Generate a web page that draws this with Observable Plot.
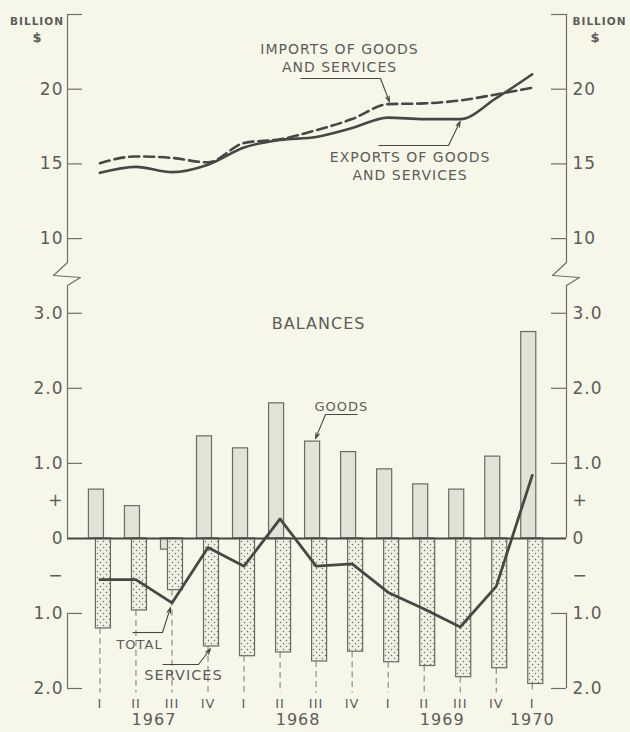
<!DOCTYPE html>
<html>
<head>
<meta charset="utf-8">
<script src="https://cdn.jsdelivr.net/npm/d3@7"></script>
<script src="https://cdn.jsdelivr.net/npm/@observablehq/plot@0.6"></script>
<style>
  html, body { margin: 0; padding: 0; background: #f7f7e9; }
  #chart { width: 630px; height: 732px; }
  #chart svg text { letter-spacing: 1px; }
</style>
</head>
<body>
<svg width="0" height="0" style="position:absolute">
  <defs>
    <pattern id="dots" width="6" height="6" patternUnits="userSpaceOnUse">
      <rect width="6" height="6" fill="#efefe2"></rect>
      <circle cx="1.5" cy="1.5" r="0.75" fill="#6c6c64"></circle>
      <circle cx="4.5" cy="4.5" r="0.75" fill="#6c6c64"></circle>
    </pattern>
  </defs>
</svg>
<div id="chart"></div>
<script>
// ---- data ----
const quarterLabels = ["I","II","III","IV","I","II","III","IV","I","II","III","IV","I"];
const quarterYears  = [1967,1967,1967,1967,1968,1968,1968,1968,1969,1969,1969,1969,1970];
const exportsBn  = [14.4, 14.8, 14.45, 14.95, 16.1, 16.6, 16.8, 17.4, 18.1, 18.0, 18.0, 19.4, 21.0];
const importsBn  = [15.05, 15.5, 15.4, 15.1, 16.4, 16.65, 17.25, 18.0, 19.0, 19.05, 19.25, 19.65, 20.1];
const goodsBal    = [0.65, 0.43, -0.15, 1.36, 1.2, 1.8, 1.29, 1.15, 0.92, 0.72, 0.65, 1.09, 2.75];
const servicesBal = [-1.2, -0.96, -0.69, -1.44, -1.57, -1.52, -1.64, -1.51, -1.65, -1.7, -1.85, -1.73, -1.94];
const totalBal    = [-0.55, -0.55, -0.86, -0.12, -0.37, 0.26, -0.37, -0.34, -0.72, -0.94, -1.18, -0.64, 0.84];

const tradeTicks = [25, 20, 15, 10];
const balanceTicks = [3, 2, 1, -1, -2];
const balanceLabelTicks = [3, 2, 1, 0.5, 0, -0.5, -1, -2];

// ---- layout / scale config ----
const W = 630, H = 732;
const mL = 67, mR = 64, mT = 14, mB = 44;
const frameW = W - mL - mR;
const tickLen = 15;
const xDomain = [-0.9, 12.95];                 // left and right axes
const yDomain = [-2, 3.37, 8.4, 25];           // broken scale: balances | gap | trade
const yRange  = [688, 285, 262, 14];
const axisSegments = [{y1: 8.4, y2: 25}, {y1: 0, y2: 3.37}, {y1: -2, y2: -1}];
const breakShape = [[0, 8.4], [-0.39, 5.56], [0.36, 5.12], [0, 3.37]];

const rows = quarterLabels.map((q, i) => ({
  i, q, year: quarterYears[i],
  exports: exportsBn[i], imports: importsBn[i],
  goods: goodsBal[i], services: servicesBal[i], total: totalBal[i]
}));
const yearRows = Array.from(d3.group(rows, d => d.year), ([year, qs]) => ({year: String(year), x: d3.mean(qs, d => d.i)}));

const fmt = d => d >= 8 ? String(d) : d === 0 ? "0" : d === 0.5 ? "+" : d === -0.5 ? "\u2212" : Math.abs(d).toFixed(1);

// annotations (data coordinates)
const notes = [
  {text: "IMPORTS OF GOODS\nAND SERVICES", x: 6.65, y: 22.12, size: 14},
  {text: "EXPORTS OF GOODS\nAND SERVICES", x: 8.61, y: 14.93, size: 14},
  {text: "BALANCES", x: 6.07, y: 2.88, size: 16},
  {text: "GOODS", x: 6.7, y: 1.77, size: 13},
  {text: "TOTAL", x: 1.1, y: -1.40, size: 13},
  {text: "SERVICES", x: 2.32, y: -1.81, size: 14.5}
];
const leaderRuns = [
  {x1: 5.567, x2: 7.787, y: 20.72},
  {x1: 7.732, x2: 9.675, y: 16.23},
  {x1: 7.149, x2: 6.261, y: 1.651},
  {x1: 0.904, x2: 1.737, y: -1.254},
  {x1: 1.737, x2: 2.736, y: -1.68}
];
const leaderArrows = [
  {x1: 7.787, y1: 20.72, x2: 8.037, y2: 19.15},
  {x1: 9.675, y1: 16.23, x2: 10.0, y2: 17.85},
  {x1: 6.261, y1: 1.651, x2: 5.983, y2: 1.33},
  {x1: 1.737, y1: -1.254, x2: 1.959, y2: -0.92},
  {x1: 2.736, y1: -1.68, x2: 3.069, y2: -1.47}
];
const unitLabels = [
  {text: "BILLION", x: -1.746, y: 24.53, size: 10.5},
  {text: "$", x: -1.733, y: 23.46, size: 13},
  {text: "BILLION", x: 13.865, y: 24.53, size: 10.5},
  {text: "$", x: 13.755, y: 23.46, size: 13}
];

const ink = "#474744", axisInk = "#6e6e6a", textInk = "#5c5c58";

const axisRules = xDomain.flatMap(x => axisSegments.map(s => ({x, ...s})));
const breaks = xDomain.flatMap(side => breakShape.map(([dx, y]) => ({side, x: side + dx, y})));
const allTicks = tradeTicks.concat(balanceTicks);

const chart = Plot.plot({
  width: W, height: H,
  marginLeft: mL, marginRight: mR, marginTop: mT, marginBottom: mB,
  x: {type: "linear", domain: xDomain},
  y: {type: "linear", domain: yDomain, range: yRange},
  style: {background: "#f7f7e9", fontFamily: "DejaVu Sans", fontSize: "13px", color: textInk, overflow: "visible"},
  marks: [
    // goods bars
    Plot.rectY(rows, {x1: d => d.i - 0.5, x2: d => d.i + 0.5, y1: 0, y2: "goods",
      insetLeft: 7, insetRight: 14, fill: "#e2e2d6", stroke: "#6a6a66", strokeWidth: 1.2}),
    // services bars
    Plot.rectY(rows, {x1: d => d.i - 0.5, x2: d => d.i + 0.5, y1: 0, y2: "services",
      insetLeft: 14, insetRight: 7, fill: "url(#dots)", stroke: "#6a6a66", strokeWidth: 1.2}),
    // dashed drop lines to quarter labels
    Plot.ruleX(rows, {x: "i", y1: "services", y2: yDomain[0] - 0.06, stroke: "#7a7a76", strokeWidth: 1, strokeDasharray: "6,4"}),
    // zero line
    Plot.ruleY([0], {stroke: ink, strokeWidth: 2}),
    // axes
    Plot.ruleX(axisRules, {x: "x", y1: "y1", y2: "y2", stroke: axisInk, strokeWidth: 1.2}),
    Plot.line(breaks, {x: "x", y: "y", z: "side", stroke: axisInk, strokeWidth: 1.2}),
    Plot.tickY(allTicks, {y: d => d, insetRight: frameW - tickLen, stroke: axisInk, strokeWidth: 1.2}),
    Plot.tickY(allTicks, {y: d => d, insetLeft: frameW - tickLen, stroke: axisInk, strokeWidth: 1.2}),
    Plot.axisY(tradeTicks.filter(d => d !== 25).concat(balanceLabelTicks), {anchor: "left", tickSize: 0, tickPadding: 4, tickFormat: fmt, fontSize: 17}),
    Plot.axisY(tradeTicks.filter(d => d !== 25).concat(balanceLabelTicks), {anchor: "right", tickSize: 0, tickPadding: 6, tickFormat: fmt, fontSize: 17}),
    Plot.axisX(rows.map(d => d.i), {anchor: "bottom", tickSize: 0, tickPadding: 10, tickFormat: i => quarterLabels[i], fontSize: 13}),
    Plot.text(yearRows, {x: "x", text: "year", frameAnchor: "bottom", dy: 36, fontSize: 16, fill: textInk}),
    // trade lines
    Plot.line(rows, {x: "i", y: "imports", stroke: ink, strokeWidth: 2.6, strokeDasharray: "10,5", curve: "monotone-x"}),
    Plot.line(rows, {x: "i", y: "exports", stroke: ink, strokeWidth: 2.6, curve: "monotone-x"}),
    // total balance line
    Plot.line(rows, {x: "i", y: "total", stroke: ink, strokeWidth: 2.8}),
    // annotations
    Plot.link(leaderRuns, {x1: "x1", x2: "x2", y1: "y", y2: "y", stroke: ink, strokeWidth: 1.1}),
    Plot.arrow(leaderArrows, {x1: "x1", y1: "y1", x2: "x2", y2: "y2", stroke: ink, strokeWidth: 1.1, headLength: 8, headAngle: 35}),
    Plot.text(notes, {x: "x", y: "y", text: "text", fontSize: d => d.size, lineHeight: 1.3, fill: textInk}),
    Plot.text(unitLabels, {x: "x", y: "y", text: "text", fontSize: d => d.size, fontWeight: "bold", fill: textInk})
  ]
});
document.getElementById("chart").appendChild(chart);
</script>
</body>
</html>
